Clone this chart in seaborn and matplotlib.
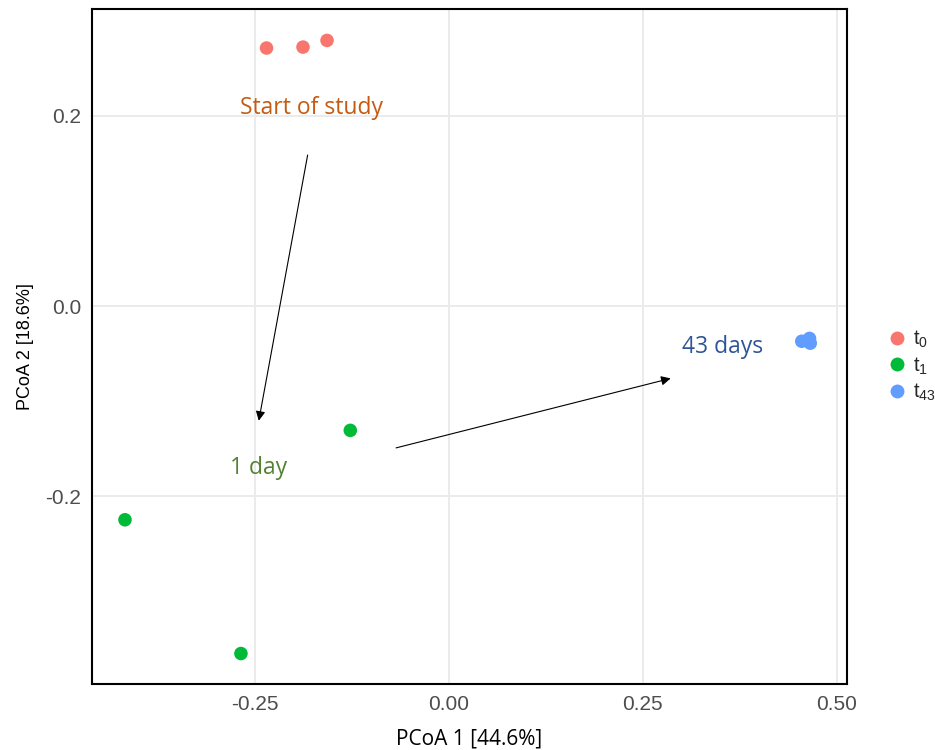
import matplotlib
matplotlib.use("Agg")
import matplotlib.pyplot as plt
import seaborn as sns
import pandas as pd
from matplotlib.lines import Line2D

# PCoA coordinates per sampling time
groups = ["t0", "t0", "t0", "t1", "t1", "t1", "t43", "t43", "t43"]
pcoa1 = [-0.235, -0.188, -0.157, -0.127, -0.4175, -0.268, 0.455, 0.465, 0.466]
pcoa2 = [0.271, 0.272, 0.279, -0.1306, -0.2245, -0.365, -0.037, -0.034, -0.039]

group_order = ["t0", "t1", "t43"]
group_labels = [r"$\mathregular{t_{0}}$", r"$\mathregular{t_{1}}$", r"$\mathregular{t_{43}}$"]
group_colors = ["#F8766D", "#00BA38", "#619CFF"]

x_ticks = [-0.25, 0.00, 0.25, 0.50]
x_tick_labels = ["-0.25", "0.00", "0.25", "0.50"]
y_ticks = [-0.2, 0.0, 0.2]
y_tick_labels = ["-0.2", "0.0", "0.2"]

# annotation arrows: (x_start, y_start, x_end, y_end)
arrow_study_to_day1 = (-0.182, 0.1586, -0.245, -0.1205)
arrow_day1_to_day43 = (-0.068, -0.149, 0.286, -0.076)

df = pd.DataFrame({"PCoA1": pcoa1, "PCoA2": pcoa2, "group": groups})

sns.set_style("white")
plt.rcParams["font.family"] = ["Liberation Sans", "DejaVu Sans"]

fig = plt.figure(figsize=(9.35, 7.5), dpi=100)
ax = fig.add_axes([0.0984, 0.088, 0.9056 - 0.0984, 0.988 - 0.088])

sns.scatterplot(data=df, x="PCoA1", y="PCoA2", hue="group", hue_order=group_order,
                palette=group_colors, s=95, edgecolor="none", linewidth=0,
                legend=False, ax=ax, zorder=3)

ax.set_xlim(-0.460, 0.513)
ax.set_ylim(-0.397, 0.312)
ax.set_xticks(x_ticks)
ax.set_xticklabels(x_tick_labels)
ax.set_yticks(y_ticks)
ax.set_yticklabels(y_tick_labels)
ax.grid(True, color="#EBEBEB", linewidth=1.4, zorder=0)
ax.set_axisbelow(True)
for sp in ax.spines.values():
    sp.set_color("black")
    sp.set_linewidth(1.5)
    sp.set_visible(True)
ax.tick_params(axis="both", direction="out", length=4, width=1.1, color="#333333",
               labelcolor="#4D4D4D", labelsize=15, pad=4)

ax.set_xlabel("PCoA 1 [44.6%]", fontsize=15, family=["Open Sans", "DejaVu Sans"],
              color="black", labelpad=10)
ax.set_ylabel("PCoA 2 [18.6%]", fontsize=13, color="black", labelpad=8)

# arrows between time points
for xs, ys, xe, ye in (arrow_study_to_day1, arrow_day1_to_day43):
    ax.annotate("", xy=(xe, ye), xytext=(xs, ys),
                arrowprops=dict(arrowstyle="-|>", color="black", lw=0.8,
                                mutation_scale=14, shrinkA=0, shrinkB=0))

ax.text(-0.177, 0.208, "Start of study", color="#C55A11", fontsize=16.5,
        family=["Open Sans", "DejaVu Sans"], ha="center", va="center")
ax.text(-0.245, -0.1705, "1 day", color="#548235", fontsize=16.5,
        family=["Open Sans", "DejaVu Sans"], ha="center", va="center")
ax.text(0.353, -0.0435, "43 days", color="#2F5597", fontsize=16.5,
        family=["Open Sans", "DejaVu Sans"], ha="center", va="center")

handles = [Line2D([0], [0], marker="o", linestyle="", markersize=10,
                  markerfacecolor=c, markeredgecolor="none") for c in group_colors]
leg = fig.legend(handles, group_labels, loc="center left",
                 bbox_to_anchor=(0.938, 0.512), frameon=False, fontsize=14.5,
                 handletextpad=0.2, labelspacing=0.25, handlelength=1.2,
                 borderaxespad=0)

fig.savefig("out.png", dpi=100, facecolor="white")
